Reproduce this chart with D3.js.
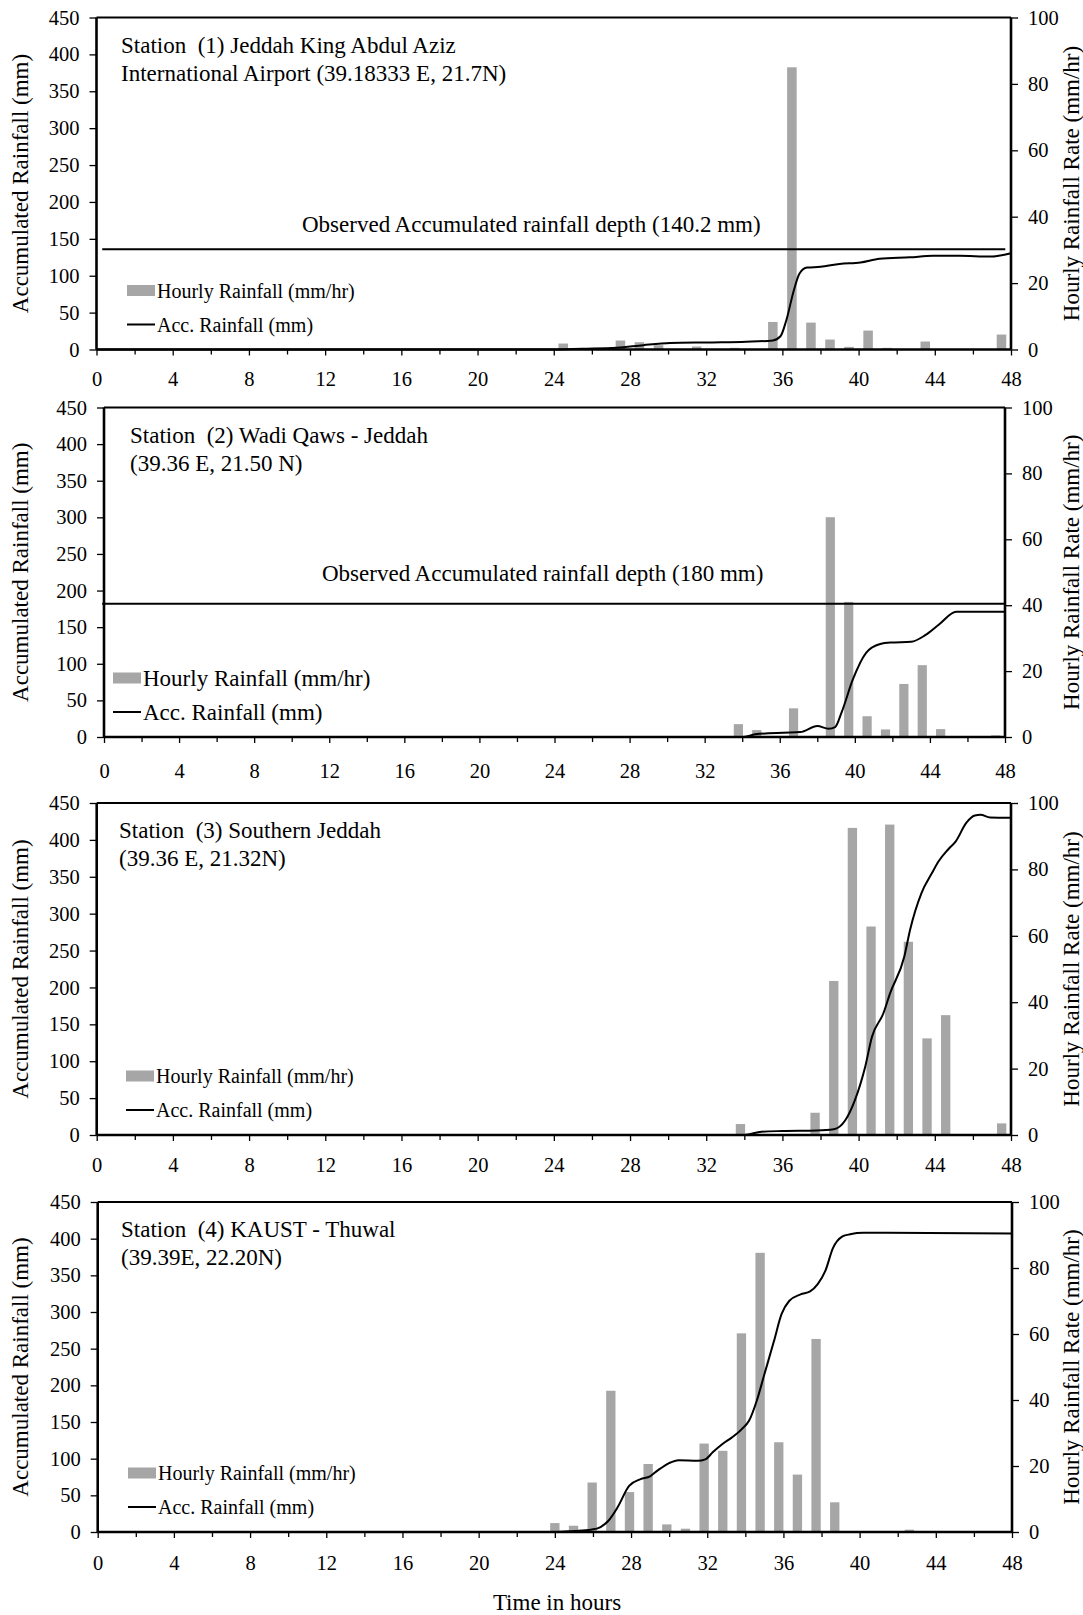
<!DOCTYPE html>
<html>
<head>
<meta charset="utf-8">
<script src="https://cdn.jsdelivr.net/npm/d3@7"></script>
<style>
  body { margin: 0; background: #fff; }
  svg text { font-family: "Liberation Serif", "Times New Roman", serif; fill: #000; }
</style>
</head>
<body>
<svg id="chart" width="1083" height="1615"></svg>
<script>
// axis ticks
var hourTicks = [0, 4, 8, 12, 16, 20, 24, 28, 32, 36, 40, 44, 48];
var accTicks = [0, 50, 100, 150, 200, 250, 300, 350, 400, 450];
var rateTicks = [0, 20, 40, 60, 80, 100];

// station titles
var station1 = ["Station  (1) Jeddah King Abdul Aziz", "International Airport (39.18333 E, 21.7N)"];
var station2 = ["Station  (2) Wadi Qaws - Jeddah", "(39.36 E, 21.50 N)"];
var station3 = ["Station  (3) Southern Jeddah", "(39.36 E, 21.32N)"];
var station4 = ["Station  (4) KAUST - Thuwal", "(39.39E, 22.20N)"];

// hourly rainfall (mm/hr): [category index, value]
var rain1 = [[24, 1.8], [27, 2.7], [28, 2.2], [29, 1.3], [31, 0.9], [33, 0.5], [35, 8.3], [36, 85],
  [37, 8.1], [38, 3.0], [39, 0.8], [40, 5.7], [41, 0.5], [43, 2.4], [47, 4.5]];
var rain2 = [[34, 3.9], [35, 2.1], [37, 8.7], [39, 66.7], [40, 41], [41, 6.3], [42, 2.3], [43, 16.1],
  [44, 21.8], [45, 2.4], [48, 0.5]];
var rain3 = [[34, 3.3], [38, 6.7], [39, 46.4], [40, 92.5], [41, 62.8], [42, 93.5], [43, 58.2],
  [44, 29.1], [45, 36.1], [48, 3.5]];
var rain4 = [[24, 2.7], [25, 1.9], [26, 15], [27, 42.8], [28, 12.1], [29, 20.6], [30, 2.3], [31, 1.0],
  [32, 26.8], [33, 24.6], [34, 60.2], [35, 84.6], [36, 27.2], [37, 17.4], [38, 58.5], [39, 9.0], [43, 0.7]];

// accumulated rainfall (mm): [hour, value]
var acc1 = [[0, 0], [24, 0], [25.5, 1], [27.3, 2.3], [28.7, 5.9], [30.1, 8.7], [32.2, 9.6], [34.1, 10.5],
  [35.5, 12.3], [35.9, 18], [36.2, 39], [36.6, 80], [36.9, 103], [37.3, 111], [38, 112], [39, 116],
  [40.1, 118], [41.1, 123], [42.7, 125], [43.9, 127], [45.3, 127], [46.9, 126], [48, 130.5]];
var acc2 = [[0, 0], [34, 0], [34.7, 3.6], [36.2, 5.9], [37.1, 6.8], [38, 15], [38.6, 11.3], [38.95, 13.6],
  [39.3, 34], [39.9, 79], [40.6, 115], [41.35, 127], [41.9, 129], [43, 130], [43.75, 139], [44.5, 154],
  [45.4, 171], [48, 171]];
var acc3 = [[0, 0], [34, 0], [34.9, 4.5], [36, 5.4], [37.8, 6], [38.7, 7.7], [39.3, 20], [39.8, 47],
  [40.35, 93], [40.7, 133], [41.3, 165], [41.65, 192], [42.4, 242], [42.7, 278], [43.3, 328],
  [43.85, 355], [44.2, 371], [44.7, 387], [45.1, 398], [45.65, 423], [46.1, 433], [46.4, 434],
  [46.9, 430.5], [48, 430]];
var acc4 = [[0, 0], [24, 0], [25, 1.4], [25.9, 3.2], [26.4, 6.8], [26.8, 15], [27.3, 34], [27.9, 63],
  [28.5, 72], [29, 76], [29.4, 84], [30, 94], [30.5, 98], [31.5, 97], [31.9, 99], [32.3, 109],
  [32.8, 120], [33.3, 129], [33.8, 140], [34.2, 152], [34.6, 179], [35, 215], [35.5, 260], [35.9, 297],
  [36.3, 315], [36.9, 324], [37.4, 328], [37.8, 338], [38.2, 356], [38.6, 387], [39.1, 403],
  [39.5, 406], [40.2, 408], [48, 407]];

// observed accumulated depth lines
var observed1 = { value: 136, from: 0.3, to: 47.7, label: "Observed Accumulated rainfall depth (140.2 mm)" };
var observed2 = { value: 182, from: -0.1, to: 48, label: "Observed Accumulated rainfall depth (180 mm)" };

var panels = [
  { left: 96.5, right: 1011, top: 17.5, bottom: 349.5, cats: 48, rain: rain1, acc: acc1, obs: observed1,
    obsX: 302, obsY: 232, name: station1, nameX: 121, legX: 127, legFont: 20, labelPad: 16 },
  { left: 104, right: 1005, top: 407.5, bottom: 737, cats: 49, rain: rain2, acc: acc2, obs: observed2,
    obsX: 322, obsY: 581, name: station2, nameX: 130, legX: 113, legFont: 23, labelPad: 20 },
  { left: 96.7, right: 1011, top: 803, bottom: 1135, cats: 49, rain: rain3, acc: acc3, obs: null,
    name: station3, nameX: 119, legX: 126, legFont: 20, labelPad: 16 },
  { left: 97.7, right: 1012, top: 1202, bottom: 1532, cats: 49, rain: rain4, acc: acc4, obs: null,
    name: station4, nameX: 121, legX: 128, legFont: 20, labelPad: 17 }
];

var svg = d3.select("#chart");
var barColor = "#a6a6a6";

panels.forEach(function (p) {
  var g = svg.append("g");

  var x = d3.scaleLinear().domain([0, 48]).range([p.left, p.right]);
  var band = d3.scaleBand()
    .domain(d3.range(p.cats))
    .range([p.left, p.right])
    .paddingInner(0.5)
    .paddingOuter(0.25);
  var yAcc = d3.scaleLinear().domain([0, 450]).range([p.bottom, p.top]);
  var yRate = d3.scaleLinear().domain([0, 100]).range([p.bottom, p.top]);

  // bars
  g.selectAll(".bar")
    .data(p.rain)
    .enter()
    .append("rect")
    .attr("class", "bar")
    .attr("x", function (d) { return band(d[0]); })
    .attr("width", band.bandwidth())
    .attr("y", function (d) { return yRate(d[1]); })
    .attr("height", function (d) { return p.bottom - yRate(d[1]); })
    .attr("fill", barColor);

  // observed depth
  if (p.obs) {
    g.append("line")
      .attr("x1", x(p.obs.from))
      .attr("x2", x(p.obs.to))
      .attr("y1", yAcc(p.obs.value))
      .attr("y2", yAcc(p.obs.value))
      .attr("stroke", "#000")
      .attr("stroke-width", 2);
    g.append("text")
      .attr("x", p.obsX)
      .attr("y", p.obsY)
      .style("font-size", "23px")
      .text(p.obs.label);
  }

  // accumulated line
  var line = d3.line()
    .x(function (d) { return x(d[0]); })
    .y(function (d) { return yAcc(d[1]); })
    .curve(d3.curveMonotoneX);
  g.append("path")
    .datum(p.acc)
    .attr("d", line)
    .attr("fill", "none")
    .attr("stroke", "#000")
    .attr("stroke-width", 2);

  // frame
  g.append("line")
    .attr("x1", p.left).attr("x2", p.right)
    .attr("y1", p.top).attr("y2", p.top)
    .attr("stroke", "#000").attr("stroke-width", 2);

  // axes
  var axL = g.append("g")
    .attr("transform", "translate(" + p.left + ",0)")
    .call(d3.axisLeft(yAcc).tickValues(accTicks).tickSize(7).tickPadding(10));
  var axR = g.append("g")
    .attr("transform", "translate(" + p.right + ",0)")
    .call(d3.axisRight(yRate).tickValues(rateTicks).tickSize(7).tickPadding(10));
  var axB = g.append("g")
    .attr("transform", "translate(0," + p.bottom + ")")
    .call(d3.axisBottom(x).tickValues(hourTicks).tickSize(6).tickPadding(p.labelPad));
  var axM = g.append("g")
    .attr("transform", "translate(0," + p.bottom + ")")
    .call(d3.axisBottom(x).tickValues(d3.range(2, 48, 4)).tickSize(5).tickFormat(""));
  axM.select(".domain").remove();

  [axL, axR, axB, axM].forEach(function (a) {
    a.selectAll("text").style("font-size", "20.5px");
    a.selectAll("line").attr("stroke-width", 1.3);
    a.select(".domain").attr("stroke-width", 2.6);
    a.attr("font-family", null).attr("font-size", null);
  });
  axL.select(".domain").attr("d", "M0," + p.top + "V" + p.bottom);
  axR.select(".domain").attr("d", "M0," + p.top + "V" + p.bottom);
  axB.select(".domain").attr("d", "M" + p.left + ",0H" + p.right);

  // station name
  g.append("text")
    .attr("x", p.nameX)
    .attr("y", p.top + 35)
    .style("font-size", "23px")
    .style("white-space", "pre")
    .text(p.name[0]);
  g.append("text")
    .attr("x", p.nameX)
    .attr("y", p.top + 63)
    .style("font-size", "23px")
    .style("white-space", "pre")
    .text(p.name[1]);

  // legend
  var ly1 = p.bottom - 59;
  var ly2 = p.bottom - 25;
  g.append("rect")
    .attr("x", p.legX).attr("y", ly1 - 5.5)
    .attr("width", 28).attr("height", 11)
    .attr("fill", barColor);
  g.append("line")
    .attr("x1", p.legX).attr("x2", p.legX + 28)
    .attr("y1", ly2).attr("y2", ly2)
    .attr("stroke", "#000").attr("stroke-width", 2);
  g.append("text")
    .attr("x", p.legX + 30).attr("y", ly1)
    .attr("dy", "0.35em")
    .style("font-size", p.legFont + "px")
    .text("Hourly Rainfall (mm/hr)");
  g.append("text")
    .attr("x", p.legX + 30).attr("y", ly2)
    .attr("dy", "0.35em")
    .style("font-size", p.legFont + "px")
    .text("Acc. Rainfall (mm)");

  // axis titles
  var cy = (p.top + p.bottom) / 2;
  g.append("text")
    .attr("transform", "translate(20," + cy + ") rotate(-90)")
    .attr("text-anchor", "middle")
    .attr("dy", "0.35em")
    .style("font-size", "23px")
    .text("Accumulated Rainfall (mm)");
  g.append("text")
    .attr("transform", "translate(1071," + cy + ") rotate(-90)")
    .attr("text-anchor", "middle")
    .attr("dy", "0.35em")
    .style("font-size", "23px")
    .text("Hourly Rainfall Rate (mm/hr)");
});

svg.append("text")
  .attr("x", 557)
  .attr("y", 1610)
  .attr("text-anchor", "middle")
  .style("font-size", "23px")
  .text("Time in hours");
</script>
</body>
</html>
